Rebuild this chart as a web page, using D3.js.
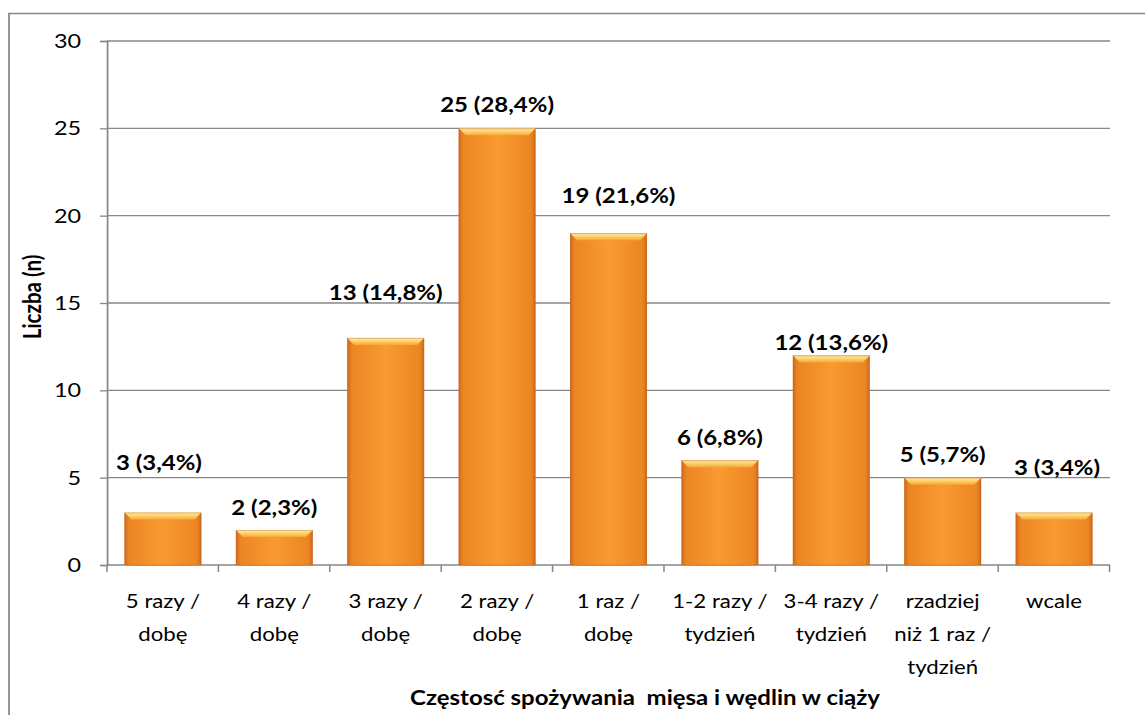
<!DOCTYPE html>
<html>
<head>
<meta charset="utf-8">
<script src="https://cdn.jsdelivr.net/npm/d3@7"></script>
<style>
  html, body { margin: 0; padding: 0; background: #fff; overflow: hidden; }
  svg { display: block; }
</style>
</head>
<body>
<svg id="chart"></svg>
<script>
// Częstość spożywania mięsa i wędlin w ciąży
const categories = [
  ["5 razy /", "dobę"],
  ["4 razy /", "dobę"],
  ["3 razy /", "dobę"],
  ["2 razy /", "dobę"],
  ["1 raz /", "dobę"],
  ["1-2 razy /", "tydzień"],
  ["3-4 razy /", "tydzień"],
  ["rzadziej", "niż 1 raz /", "tydzień"],
  ["wcale"]
];
const counts = [3, 2, 13, 25, 19, 6, 12, 5, 3];
const percents = ["3,4", "2,3", "14,8", "28,4", "21,6", "6,8", "13,6", "5,7", "3,4"];
const yTicks = [0, 5, 10, 15, 20, 25, 30];
const xTitle = "Częstosć spożywania  mięsa i wędlin w ciąży";
const yTitle = "Liczba (n)";

// hand-placed label offsets (gap above bar top, horizontal nudge), in px
const labelGap = [43, 15, 38, 16, 30, 15, 5, 16, 38];
const labelNudge = [-4, 0, 0, 0, 10, 0, 0, 0, 3];

const W = 1145, H = 715;
const S = 1.17;            // horizontal stretch of the drawing
const VW = W / S;
const svg = d3.select("#chart")
  .attr("width", W).attr("height", H)
  .attr("viewBox", `0 0 ${VW} ${H}`)
  .attr("preserveAspectRatio", "none");

const px = v => v / S;      // screen px -> horizontal design units
const m = { left: px(107), right: VW - px(1110), top: 41, bottom: H - 565 };
const iw = VW - m.left - m.right;
const ih = H - m.top - m.bottom;
const font = "Lato, 'Open Sans', sans-serif";
const grey = "#878787";

// outer chart frame
svg.append("rect")
  .attr("x", px(9)).attr("y", 13.5)
  .attr("width", 2000).attr("height", 2000)
  .attr("fill", "none").attr("stroke", grey).attr("stroke-width", 1.5);

const x = d3.scaleBand().domain(d3.range(categories.length)).range([0, iw]).paddingInner(0.31).paddingOuter(0.157);
const y = d3.scaleLinear().domain([0, 30]).range([ih, 0]);

const g = svg.append("g").attr("transform", `translate(${m.left},${m.top})`);

// gradients
const defs = svg.append("defs");
const bodyGrad = defs.append("linearGradient").attr("id", "barBody").attr("x1", 0).attr("x2", 1).attr("y1", 0).attr("y2", 0);
bodyGrad.append("stop").attr("offset", 0).attr("stop-color", "#cf6b1c");
bodyGrad.append("stop").attr("offset", 0.06).attr("stop-color", "#ec8624");
bodyGrad.append("stop").attr("offset", 0.5).attr("stop-color", "#f99a30");
bodyGrad.append("stop").attr("offset", 0.94).attr("stop-color", "#ec8624");
bodyGrad.append("stop").attr("offset", 1).attr("stop-color", "#cf6b1c");
const capGrad = defs.append("linearGradient").attr("id", "barTop").attr("x1", 0).attr("x2", 0).attr("y1", 0).attr("y2", 1);
capGrad.append("stop").attr("offset", 0).attr("stop-color", "#fff0b4");
capGrad.append("stop").attr("offset", 0.45).attr("stop-color", "#fdd46a");
capGrad.append("stop").attr("offset", 1).attr("stop-color", "#f9a53e");

// gridlines
g.append("g").selectAll("line").data(yTicks.filter(d => d > 0)).join("line")
  .attr("x1", 0).attr("x2", iw)
  .attr("y1", d => y(d)).attr("y2", d => y(d))
  .attr("stroke", grey).attr("stroke-width", 1.3);

// y axis
const yAxis = g.append("g").call(d3.axisLeft(y).tickValues(yTicks).tickSize(px(7)).tickPadding(px(19)));
yAxis.select(".domain").attr("stroke", grey).attr("stroke-width", 1.5);
yAxis.selectAll(".tick line").attr("stroke", grey).attr("stroke-width", 1.3);
yAxis.selectAll(".tick text").attr("font-family", font).attr("font-size", 20).attr("fill", "#000");

// x axis line + ticks at category boundaries
const step = x.step();
g.append("line").attr("x1", 0).attr("x2", iw).attr("y1", ih).attr("y2", ih)
  .attr("stroke", grey).attr("stroke-width", 1.5);
g.append("g").selectAll("line").data(d3.range(categories.length + 1)).join("line")
  .attr("x1", i => i * step).attr("x2", i => i * step)
  .attr("y1", ih).attr("y2", ih + 7)
  .attr("stroke", grey).attr("stroke-width", 1.3);

// bars with bevel
const bars = g.append("g").selectAll("g").data(counts).join("g")
  .attr("transform", (d, i) => `translate(${x(i)},0)`);
const bw = x.bandwidth();
bars.append("rect")
  .attr("x", 0).attr("y", d => y(d)).attr("width", bw).attr("height", d => ih - y(d))
  .attr("fill", "url(#barBody)");
bars.append("path")
  .attr("d", d => {
    const t = y(d), b = 7;
    return `M0,${t}H${bw}L${bw - px(b)},${t + b}H${px(b)}Z`;
  })
  .attr("fill", "url(#barTop)");
bars.append("rect")
  .attr("x", 0.4).attr("y", d => y(d) + 0.5).attr("width", bw - 0.8).attr("height", d => ih - y(d) - 0.5)
  .attr("fill", "none").attr("stroke", "#c0621a").attr("stroke-opacity", 0.4).attr("stroke-width", 1);

// value labels
g.append("g").selectAll("text").data(counts).join("text")
  .attr("x", (d, i) => x(i) + bw / 2 + px(labelNudge[i]))
  .attr("y", (d, i) => y(d) - labelGap[i])
  .attr("text-anchor", "middle")
  .attr("font-family", font).attr("font-weight", "bold").attr("font-size", 20.5)
  .attr("fill", "#000")
  .text((d, i) => `${d} (${percents[i]}%)`);

// category labels
const cat = g.append("g").selectAll("text").data(categories).join("text")
  .attr("x", (d, i) => x(i) + bw / 2)
  .attr("y", ih + 43)
  .attr("text-anchor", "middle")
  .attr("font-family", font).attr("font-size", 19).attr("fill", "#000");
cat.selectAll("tspan").data(d => d).join("tspan")
  .attr("x", function () { return this.parentNode.getAttribute("x"); })
  .attr("dy", (d, j) => j === 0 ? 0 : 33)
  .text(d => d);

// axis titles
svg.append("text")
  .attr("x", px(645)).attr("y", 705)
  .attr("text-anchor", "middle")
  .attr("font-family", font).attr("font-weight", "bold").attr("font-size", 20.5)
  .style("white-space", "pre")
  .text(xTitle);
svg.append("text")
  .attr("transform", `translate(${px(41)},297) rotate(-90)`)
  .attr("text-anchor", "middle")
  .attr("font-family", font).attr("font-weight", "bold").attr("font-size", 20.5)
  .text(yTitle);
</script>
</body>
</html>
